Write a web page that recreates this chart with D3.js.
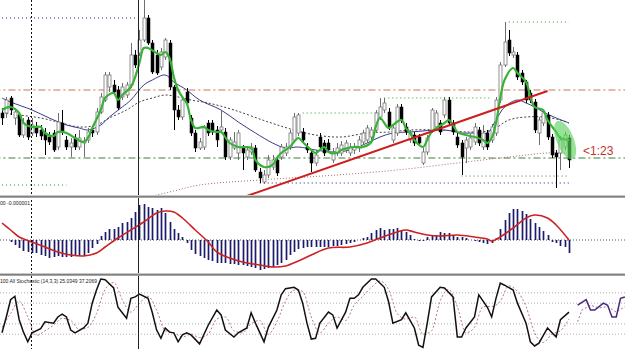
<!DOCTYPE html>
<html>
<head>
<meta charset="utf-8">
<script src="https://cdn.jsdelivr.net/npm/d3@7"></script>
<style>
  html, body { margin: 0; padding: 0; background: #fff; overflow: hidden; }
  svg { display: block; }
</style>
</head>
<body>
<svg id="chart" width="625" height="349"></svg>
<script>
// price candles, one per bar: [open, high, low, close]
const candles = [
  [87,92,75,82],[87,103,82,100],[102,104,85,90],[82,92,75,88],[85,88,63,65],
  [65,82,62,77],[80,83,60,63],[67,82,64,75],[73,78,63,67],[70,75,60,64],
  [67,72,45,60],[63,68,55,58],[67,70,48,50],[53,87,50,78],[77,90,65,68],
  [60,64,50,53],[53,62,43,57],[62,66,50,53],[53,70,50,62],[57,63,43,59],
  [60,72,57,68],[70,74,63,67],[68,92,65,88],[88,107,86,103],[100,128,98,125],
  [113,128,108,125],[115,120,105,108],[110,114,90,92],[103,117,100,113],[105,118,102,115],
  [115,157,112,145],[145,150,132,135],[147,170,144,160],[160,200,158,182],[182,185,155,157],
  [157,160,126,128],[145,150,125,127],[133,152,130,148],[143,162,140,160],[157,160,110,113],
  [113,115,70,90],[90,95,80,83],[83,103,80,100],[108,112,94,97],[82,85,64,67],
  [67,70,48,52],[52,62,50,58],[53,75,50,73],[77,80,64,67],[77,80,65,68],
  [70,74,53,60],[70,90,67,73],[68,72,40,43],[43,63,40,60],[52,68,50,58],
  [47,70,40,67],[52,55,30,47],[43,54,40,50],[48,57,45,53],[52,55,28,30],
  [28,32,17,22],[18,30,16,25],[25,45,22,40],[33,45,30,40],[40,43,24,27],
  [43,56,40,53],[47,57,44,53],[53,70,50,67],[60,87,58,83],[67,87,64,85],
  [68,72,57,60],[53,57,47,50],[47,50,28,37],[37,50,34,45],[63,67,50,53],
  [57,60,44,47],[57,61,47,50],[40,52,37,48],[47,57,44,52],[47,59,44,55],
  [50,60,47,57],[47,57,44,53],[50,57,46,53],[52,64,48,60],[58,70,55,67],
  [60,75,57,72],[63,73,60,70],[70,90,67,87],[83,102,80,93],[90,102,87,97],
  [88,92,70,73],[60,75,57,72],[67,96,64,93],[93,96,77,80],[73,77,65,68],
  [60,70,57,67],[65,68,54,57],[63,66,54,57],[37,52,35,48],[48,65,45,62],
  [70,92,67,90],[73,90,70,87],[77,80,65,68],[85,103,82,100],[100,103,74,77],
  [77,80,65,68],[63,67,52,55],[57,60,25,43],[52,63,37,60],[53,66,50,62],
  [58,77,55,73],[70,73,54,57],[53,75,50,67],[67,70,50,53],[60,76,57,73],
  [67,103,64,100],[100,138,97,135],[135,178,133,158],[160,170,144,147],[145,153,142,148],
  [145,148,120,123],[127,130,115,118],[118,120,97,100],[107,110,97,100],[98,101,67,70],
  [67,83,55,80],[77,90,74,87],[85,88,60,63],[63,66,42,45],[47,50,12,43],
  [47,64,30,60],[53,68,50,65],[62,65,32,40]
];

// moving averages: [bar, price]
const maFast = [
  [0,90],[2,93],[4,87],[5,77],[7,73],[9,73],[10,67],[12,64],[13,68],[15,67],
  [17,62],[19,58],[20,62],[21,72],[23,90],[24,102],[26,107],[27,100],[28,105],[30,113],
  [31,123],[32,137],[33,152],[34,152],[36,147],[37,145],[38,148],[39,142],[40,123],[41,110],
  [42,103],[43,97],[44,80],[45,72],[47,73],[48,70],[50,68],[51,68],[53,57],[55,53],
  [58,52],[59,40],[61,33],[63,35],[64,42],[65,47],[67,53],[69,62],[70,58],[72,50],
  [73,47],[75,53],[76,48],[78,47],[79,50],[82,53],[84,53],[86,58],[87,73],[88,82],
  [90,72],[91,75],[93,80],[94,72],[95,67],[96,60],[98,53],[99,60],[100,68],[103,77],
  [104,80],[105,75],[106,68],[108,65],[110,63],[112,60],[113,57],[114,62],[115,77],[116,102],
  [117,120],[119,132],[120,127],[122,118],[123,103],[124,93],[126,90],[127,80],[129,68],[130,62],
  [132,60]
];
const maMid = [
  [0,102],[2,98],[7,90],[11,82],[15,75],[18,72],[20,70],[23,75],[25,83],[28,93],
  [30,100],[33,115],[35,120],[38,125],[40,118],[43,110],[46,100],[51,90],[55,78],[59,67],
  [63,57],[66,52],[69,53],[73,50],[77,48],[81,50],[85,57],[88,63],[91,67],[95,68],
  [103,70],[107,67],[110,67],[113,67],[115,80],[117,93],[120,100],[122,97],[124,93],[126,88],
  [129,82],[132,77]
];
const maSlow = [
  [0,87],[4,85],[9,82],[13,78],[18,73],[22,75],[25,82],[29,90],[32,98],[35,102],
  [38,105],[41,103],[44,100],[48,97],[54,90],[62,78],[68,70],[73,65],[79,63],[85,67],
  [90,68],[95,70],[102,70],[109,68],[114,70],[118,80],[122,83],[126,83],[130,80],[132,77]
];
const maLong = [
  [33,2],[40,9],[46,15],[60,20],[78,25],[92,30],[106,37],[118,43],[127,47],[131,47]
];

// horizontal levels: price, first bar, last bar, kind
const levelPrice = [182, 110, 42, 15, 87, 102, 178, 24, 17];
const levelFrom  = [0, -2, -2, 0, 70, 89, 118, 107, 60];
const levelTo    = [32, 146, 146, 15, 88, 114, 132, 132, 132];
const levelKind  = ['navy', 'orange', 'green', 'dot', 'dot', 'dot', 'dot', 'dot', 'navy'];

const trendLine = [[57, 4], [127, 109]];
const timeMarks = [6.75, 31.6];

// MACD histogram from bar 2 onwards, and its signal line [bar, value]
const macdStart = 2;
const macdHist = [
  -2,-5,-8,-11,-12,-13,-13,-15,-16,-18,
  -17,-16,-17,-17,-17,-16,-16,-16,-13,-8,
  -4,4,8,11,11,13,17,18,22,28,
  35,36,33,32,30,32,27,18,11,7,
  3,-3,-10,-14,-16,-18,-20,-21,-23,-23,
  -23,-24,-24,-25,-25,-26,-27,-28,-30,-29,
  -28,-27,-25,-23,-20,-15,-12,-9,
  -8,-7,-7,-7,-7,-7,-7,-6,-6,-5,
  -4,-3,-2,0,2,3,7,10,12,10,
  11,11,12,9,8,5,1,-1,-1,3,
  4,5,8,7,7,5,3,3,2,0,
  -1,-2,-3,-4,-3,2,11,20,27,31,
  31,29,26,21,17,13,9,5,-2,-3,
  -6,-7,-13
];
const macdSignal = [
  [0,17],[2,10],[4,3],[7,-2],[10,-7],[13,-12],[16,-15],[19,-16],[22,-13],[24,-7],
  [27,2],[30,10],[33,18],[36,27],[38,29],[40,28],[42,22],[45,10],[48,-2],[50,-12],
  [53,-18],[56,-22],[60,-25],[63,-27],[66,-26],[69,-21],[72,-15],[76,-8],[81,-7],[85,-3],
  [88,2],[92,8],[94,10],[96,8],[99,5],[102,4],[106,5],[110,3],[113,1],[114,-1],
  [116,3],[119,12],[122,22],[124,25],[127,22],[129,15],[132,0]
];

// stochastic %K and %D [bar, value]
const stochK = [
  [0,22],[1,45],[2,70],[3,75],[4,41],[5,23],[6,9],[7,22],[9,28],[10,38],
  [12,36],[13,45],[14,49],[15,45],[16,26],[17,22],[19,29],[20,36],[21,65],[22,84],
  [23,100],[24,99],[26,87],[27,59],[28,51],[29,43],[30,72],[31,74],[32,78],[34,72],
  [35,51],[36,26],[37,14],[38,29],[39,23],[40,22],[41,9],[42,19],[43,22],[44,19],
  [46,6],[48,33],[50,55],[51,48],[52,26],[54,16],[55,22],[57,29],[58,51],[59,36],
  [61,9],[62,30],[64,55],[65,77],[66,86],[68,88],[69,84],[70,65],[71,36],[72,13],
  [73,14],[74,36],[76,52],[77,48],[78,29],[80,52],[81,72],[82,72],[83,77],[84,88],
  [86,100],[87,100],[89,88],[90,67],[91,36],[93,41],[94,51],[96,29],[97,4],[98,1],
  [99,36],[100,74],[102,88],[103,87],[105,74],[106,16],[107,16],[108,29],[110,45],[111,77],
  [113,59],[114,45],[115,72],[116,94],[117,91],[119,84],[120,65],[122,36],[123,9],[124,3],
  [125,7],[127,29],[129,16],[130,41],[132,52]
];
const stochD = [
  [0,30],[2,50],[4,68],[6,45],[8,18],[10,25],[12,33],[14,43],[16,40],[18,27],
  [20,30],[22,50],[24,85],[26,95],[28,70],[30,52],[32,65],[34,75],[36,55],[38,25],
  [40,22],[42,16],[44,20],[46,15],[48,20],[50,42],[52,45],[54,25],[56,22],[58,35],
  [60,40],[62,20],[64,38],[66,68],[68,84],[70,82],[72,45],[74,22],[76,36],[78,45],
  [80,40],[82,62],[84,75],[86,88],[88,97],[90,85],[92,50],[94,42],[96,45],[98,20],
  [100,25],[102,68],[104,85],[106,60],[108,22],[110,30],[112,60],[114,60],[116,68],[118,90],
  [120,82],[122,60],[124,22],[126,8],[128,20],[130,25],[132,42]
];
const extraK = [[134,62],[136,70],[137,55],[138,55],[140,65],[141,62],[142,45],[143,45],[144,72],[145,74]];
const extraD = [[134,38],[135,55],[137,62],[139,58],[141,60],[143,52],[145,60]];
const stochLevels = [80, 65, 35, 20];

const W = 625, H = 349;
const svg = d3.select('#chart');

const x = d3.scaleLinear().domain([0, 132]).range([2, 569]);
const yMain = d3.scaleLinear().domain([5, 200]).range([195, 0]);
const yMacd = d3.scaleLinear().domain([-32, 42]).range([272, 198]);
const yStoch = d3.scaleLinear().domain([0, 100]).range([348, 279]);

const defs = svg.append('defs');
[['clipMain', 0, 195], ['clipMacd', 198, 74], ['clipStoch', 276, 73]].forEach(c => {
  defs.append('clipPath').attr('id', c[0])
    .append('rect').attr('x', 0).attr('y', c[1]).attr('width', W).attr('height', c[2]);
});

const main = svg.append('g').attr('clip-path', 'url(#clipMain)');
const macd = svg.append('g').attr('clip-path', 'url(#clipMacd)');
const stoch = svg.append('g').attr('clip-path', 'url(#clipStoch)');

// ---- main panel ----
const levelStyle = {
  navy:   { stroke: '#20207a', dash: '1,3', w: 1 },
  orange: { stroke: '#d8a88c', dash: '7,3,2,3', w: 1.5 },
  green:  { stroke: '#3f7f3f', dash: '7,3,2,3', w: 1.2 },
  dot:    { stroke: '#2e9a2e', dash: '1,3', w: 1 }
};
levelPrice.forEach((p, i) => {
  const s = levelStyle[levelKind[i]];
  main.append('line')
    .attr('x1', x(levelFrom[i])).attr('x2', x(levelTo[i]))
    .attr('y1', yMain(p)).attr('y2', yMain(p))
    .attr('stroke', s.stroke).attr('stroke-width', s.w)
    .attr('stroke-dasharray', s.dash);
});

const mainLine = d3.line().x(d => x(d[0])).y(d => yMain(d[1])).curve(d3.curveCatmullRom.alpha(0.5));

main.append('path').datum(maLong).attr('d', mainLine)
  .attr('fill', 'none').attr('stroke', '#a86a6a').attr('stroke-width', 1).attr('stroke-dasharray', '1,2');
main.append('path').datum(maSlow).attr('d', mainLine)
  .attr('fill', 'none').attr('stroke', '#444').attr('stroke-width', 1).attr('stroke-dasharray', '2,2');
main.append('path').datum(maMid).attr('d', mainLine)
  .attr('fill', 'none').attr('stroke', '#3a3a8c').attr('stroke-width', 1);

// candles
const bodyW = 3;
const cg = main.append('g');
candles.forEach((c, i) => {
  const up = c[3] >= c[0];
  const cx = Math.round(x(i)) + 0.5;
  cg.append('line')
    .attr('x1', cx).attr('x2', cx)
    .attr('y1', yMain(c[1])).attr('y2', yMain(c[2]))
    .attr('stroke', up ? '#6e6e6e' : '#000').attr('stroke-width', 1);
  const top = yMain(Math.max(c[0], c[3]));
  const bot = yMain(Math.min(c[0], c[3]));
  cg.append('rect')
    .attr('x', cx - bodyW / 2).attr('y', top)
    .attr('width', bodyW).attr('height', Math.max(1, bot - top))
    .attr('fill', up ? '#fff' : '#000')
    .attr('stroke', up ? '#777' : '#000').attr('stroke-width', up ? 0.8 : 0.5);
});

main.append('path').datum(maFast).attr('d', mainLine)
  .attr('fill', 'none').attr('stroke', '#36b336').attr('stroke-width', 2.2);

main.append('line')
  .attr('x1', x(trendLine[0][0])).attr('y1', yMain(trendLine[0][1]))
  .attr('x2', x(trendLine[1][0])).attr('y2', yMain(trendLine[1][1]))
  .attr('stroke', '#cc1c1c').attr('stroke-width', 2);

// highlight over the last bars
const ex = x(131.1), ey = yMain(60);
main.append('ellipse')
  .attr('cx', ex).attr('cy', ey)
  .attr('rx', 8.5).attr('ry', 20.5)
  .attr('transform', `rotate(-22 ${ex} ${ey})`)
  .attr('fill', '#5dd35d').attr('opacity', 0.65);

svg.append('text')
  .attr('x', 583).attr('y', 155)
  .attr('font-family', 'Liberation Sans, Arial, sans-serif')
  .attr('font-size', 12).attr('fill', '#c63030')
  .text('<1:23');

// ---- MACD panel ----
macd.append('line')
  .attr('x1', 0).attr('x2', W).attr('y1', yMacd(0)).attr('y2', yMacd(0))
  .attr('stroke', '#555').attr('stroke-width', 1).attr('stroke-dasharray', '1,2');

macd.selectAll('line.bar').data(macdHist).join('line')
  .attr('class', 'bar')
  .attr('x1', (d, i) => Math.round(x(i + macdStart)) + 0.5)
  .attr('x2', (d, i) => Math.round(x(i + macdStart)) + 0.5)
  .attr('y1', yMacd(0)).attr('y2', d => yMacd(d))
  .attr('stroke', '#1b1b6b').attr('stroke-width', 1.7);

macd.append('path').datum(macdSignal)
  .attr('d', d3.line().x(d => x(d[0])).y(d => yMacd(d[1])).curve(d3.curveCatmullRom.alpha(0.5)))
  .attr('fill', 'none').attr('stroke', '#cc2222').attr('stroke-width', 1.6);

svg.append('text')
  .attr('x', 0).attr('y', 205)
  .attr('font-family', 'Liberation Sans, Arial, sans-serif')
  .attr('font-size', 6).attr('fill', '#222')
  .attr('textLength', 30).attr('lengthAdjust', 'spacingAndGlyphs')
  .text('00 -0.000001');

// ---- Stochastic panel ----
stochLevels.forEach(v => {
  stoch.append('line')
    .attr('x1', 0).attr('x2', W).attr('y1', yStoch(v)).attr('y2', yStoch(v))
    .attr('stroke', '#b0b0b0').attr('stroke-width', 1).attr('stroke-dasharray', '1,2');
});

const stLine = d3.line().x(d => x(d[0])).y(d => yStoch(d[1]));
stoch.append('path').datum(stochD).attr('d', stLine.curve(d3.curveMonotoneX))
  .attr('fill', 'none').attr('stroke', '#c07878').attr('stroke-width', 1).attr('stroke-dasharray', '2,2');
stoch.append('path').datum(stochK).attr('d', stLine.curve(d3.curveLinear))
  .attr('fill', 'none').attr('stroke', '#111').attr('stroke-width', 1.5);
stoch.append('path').datum(extraD).attr('d', stLine.curve(d3.curveLinear))
  .attr('fill', 'none').attr('stroke', '#a070a0').attr('stroke-width', 1).attr('stroke-dasharray', '2,2');
stoch.append('path').datum(extraK).attr('d', stLine.curve(d3.curveLinear))
  .attr('fill', 'none').attr('stroke', '#4a2a7a').attr('stroke-width', 1.5);

svg.append('text')
  .attr('x', 0).attr('y', 283)
  .attr('font-family', 'Liberation Sans, Arial, sans-serif')
  .attr('font-size', 6).attr('fill', '#222')
  .attr('textLength', 97).attr('lengthAdjust', 'spacingAndGlyphs')
  .text('100  All Stochastic (14,3,3) 25.0349 37.2069');

// ---- time markers across all panels ----
svg.append('line')
  .attr('x1', Math.round(x(timeMarks[0])) + 0.5).attr('x2', Math.round(x(timeMarks[0])) + 0.5)
  .attr('y1', 0).attr('y2', H)
  .attr('stroke', '#111').attr('stroke-width', 1).attr('stroke-dasharray', '2,2');
svg.append('line')
  .attr('x1', Math.round(x(timeMarks[1])) + 0.5).attr('x2', Math.round(x(timeMarks[1])) + 0.5)
  .attr('y1', 0).attr('y2', H)
  .attr('stroke', '#222').attr('stroke-width', 1);

// ---- panel separators ----
[195, 273].forEach(y0 => {
  svg.append('rect').attr('x', 0).attr('y', y0).attr('width', W).attr('height', 3).attr('fill', '#c8c8c8');
  svg.append('rect').attr('x', 0).attr('y', y0 + 1).attr('width', W).attr('height', 1.5).attr('fill', '#808080');
});
</script>
</body>
</html>
